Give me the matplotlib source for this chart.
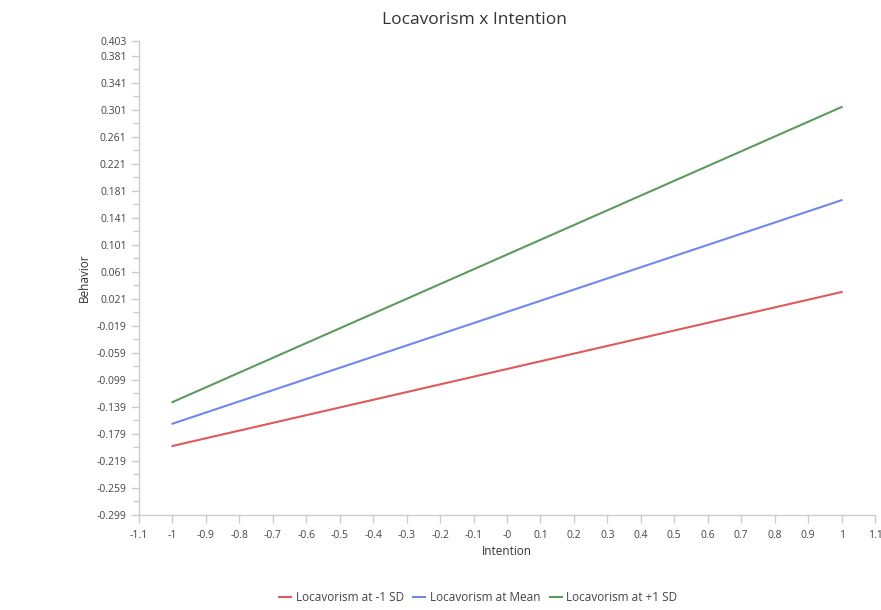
import numpy as np
import matplotlib.pyplot as plt
from matplotlib.ticker import FixedLocator

plt.rcParams['font.family'] = ['Open Sans', 'DejaVu Sans']

# Données
intention = [-1, 1]
behavior_low = [-0.197, 0.031]    # Locavorism at -1 SD
behavior_mean = [-0.164, 0.167]   # Locavorism at Mean
behavior_high = [-0.132, 0.305]   # Locavorism at +1 SD

series_labels = ['Locavorism at -1 SD', 'Locavorism at Mean', 'Locavorism at +1 SD']
series_colors = ['#e05a5a', '#6f88e8', '#5e9a5e']

y_ticks = [-0.299, -0.259, -0.219, -0.179, -0.139, -0.099, -0.059, -0.019,
           0.021, 0.061, 0.101, 0.141, 0.181, 0.221, 0.261, 0.301, 0.341, 0.381, 0.403]
x_ticks = np.round(np.arange(-1.1, 1.11, 0.1), 1)


def fmt_x(v):
    if abs(v) < 1e-9:
        return '-0'
    s = f'{v:.1f}'
    return s[:-2] if s.endswith('.0') else s


fig = plt.figure(figsize=(8.81, 6.1), dpi=100)
ax = fig.add_axes([0.1578, 0.156, 0.8354, 0.777])

for ys, lab, col in zip([behavior_low, behavior_mean, behavior_high], series_labels, series_colors):
    ax.plot(intention, ys, color=col, lw=1.5, label=lab)

ax.set_xlim(-1.1, 1.1)
ax.set_ylim(-0.299, 0.403)

ax.xaxis.set_major_locator(FixedLocator(x_ticks))
ax.set_xticklabels([fmt_x(v) for v in x_ticks])
ax.yaxis.set_major_locator(FixedLocator(y_ticks))
ax.set_yticklabels([f'{v:.3f}' for v in y_ticks])
minor_y = [v + 0.02 for v in y_ticks[:-2]]
ax.yaxis.set_minor_locator(FixedLocator(minor_y))

for s in ['top', 'right']:
    ax.spines[s].set_visible(False)
for s in ['left', 'bottom']:
    ax.spines[s].set_color('#cccccc')
    ax.spines[s].set_linewidth(1)

ax.tick_params(axis='both', which='major', colors='#cccccc', labelcolor='#444444',
               labelsize=7.5, length=6, width=1)
ax.tick_params(axis='y', which='minor', colors='#cccccc', length=4, width=1)
ax.tick_params(axis='x', pad=5)
ax.tick_params(axis='y', pad=3)

ax.set_xlabel('Intention', fontsize=8.5, color='#333333', labelpad=3)
ax.set_ylabel('Behavior', fontsize=8.5, color='#333333', labelpad=4)

fig.text(0.538, 0.968, 'Locavorism x Intention', ha='center', va='center',
         fontsize=12.5, color='#333333')

fig.legend(loc='center', bbox_to_anchor=(0.543, 0.021), ncol=3, frameon=False,
           fontsize=8.5, handlelength=1.0, handletextpad=0.4, columnspacing=0.8,
           labelcolor='#444444')

fig.savefig('out.png', dpi=100)
